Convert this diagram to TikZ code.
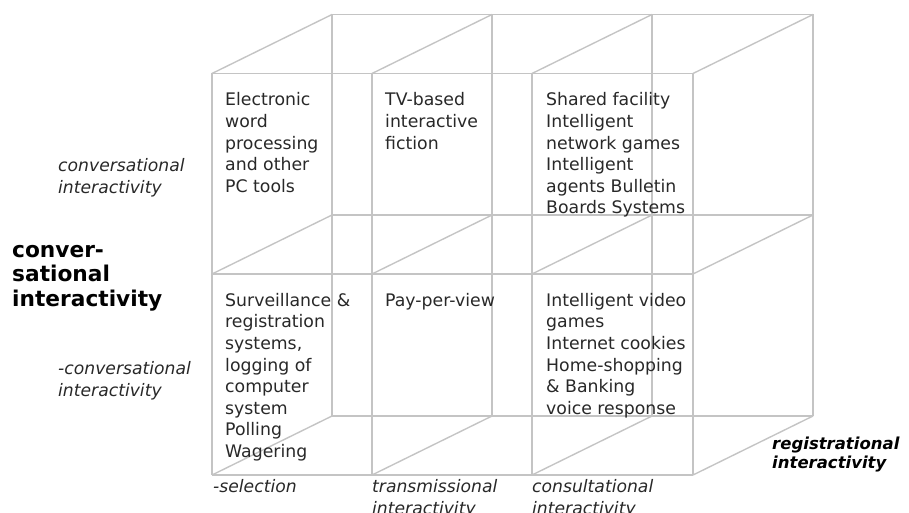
\documentclass[tikz,border=0pt]{standalone}
\usepackage{fontspec}
\setmainfont{DejaVu Sans}
\definecolor{gridgray}{RGB}{196,196,196}
\definecolor{textgray}{RGB}{40,40,40}
\begin{document}
\begin{tikzpicture}[x=1pt,y=-1pt,
  grid/.style={draw=gridgray, line width=1.4pt},
  cell/.style={anchor=north west, inner sep=0pt, align=left, text=textgray,
    font=\fontsize{17.3}{21.6}\selectfont},
  axislab/.style={anchor=north west, inner sep=0pt, align=left, text=textgray,
    font=\fontsize{17.2}{22}\selectfont\itshape},
  mainlab/.style={anchor=north west, inner sep=0pt, align=left, text=black,
    font=\fontsize{21.7}{24.5}\selectfont\bfseries},
  reglab/.style={anchor=north west, inner sep=0pt, align=left, text=black,
    font=\fontsize{16.5}{19}\selectfont\bfseries\itshape}]
\useasboundingbox (0,0) rectangle (909,513);
\foreach \i/\x in {0/212,1/372,2/532,3/693}{
  \foreach \j/\y in {0/73.5,1/274,2/475}{
    \coordinate (f\i\j) at (\x,\y);
    \coordinate (b\i\j) at (\x+120,\y-59);
  }
}
% back face
\foreach \i in {0,...,3}{\draw[grid] (b\i0) -- (b\i2);}
\foreach \j in {0,1,2}{\draw[grid] (b0\j) -- (b3\j);}
% depth edges
\foreach \i in {0,...,3}{\foreach \j in {0,1,2}{\draw[grid] (f\i\j) -- (b\i\j);}}
% front face
\foreach \i in {0,...,3}{\draw[grid] (f\i0) -- (f\i2);}
\foreach \j in {0,1,2}{\draw[grid] (f0\j) -- (f3\j);}

\node[cell] (c11) at (225,92.5) {Electronic\\word\\processing\\and other\\PC tools};
\node[cell] (c21) at (385,92.5) {TV-based\\interactive\\fiction};
\node[cell] (c31) at (546,92.5) {Shared facility\\Intelligent\\network games\\Intelligent\\agents Bulletin\\Boards Systems};
\node[cell] (c12) at (225,293) {Surveillance \&\\registration\\systems,\\logging of\\computer\\system\\Polling\\Wagering};
\node[cell] (c22) at (385,293) {Pay-per-view};
\node[cell] (c32) at (546,293) {Intelligent video\\games\\Internet cookies\\Home-shopping\\\& Banking\\voice response};

\node[axislab] (conv) at (58,158) {conversational\\interactivity};
\node[axislab] (nconv) at (58,361) {-conversational\\interactivity};
\node[mainlab] (convmain) at (12,245) {conver-\\sational\\interactivity};

\node[axislab] (sel) at (213,479) {-selection};
\node[axislab] (trans) at (372,479) {transmissional\\interactivity};
\node[axislab] (cons) at (532,479) {consultational\\interactivity};
\node[reglab] (reg) at (772,437) {registrational\\interactivity};
\end{tikzpicture}
\end{document}
